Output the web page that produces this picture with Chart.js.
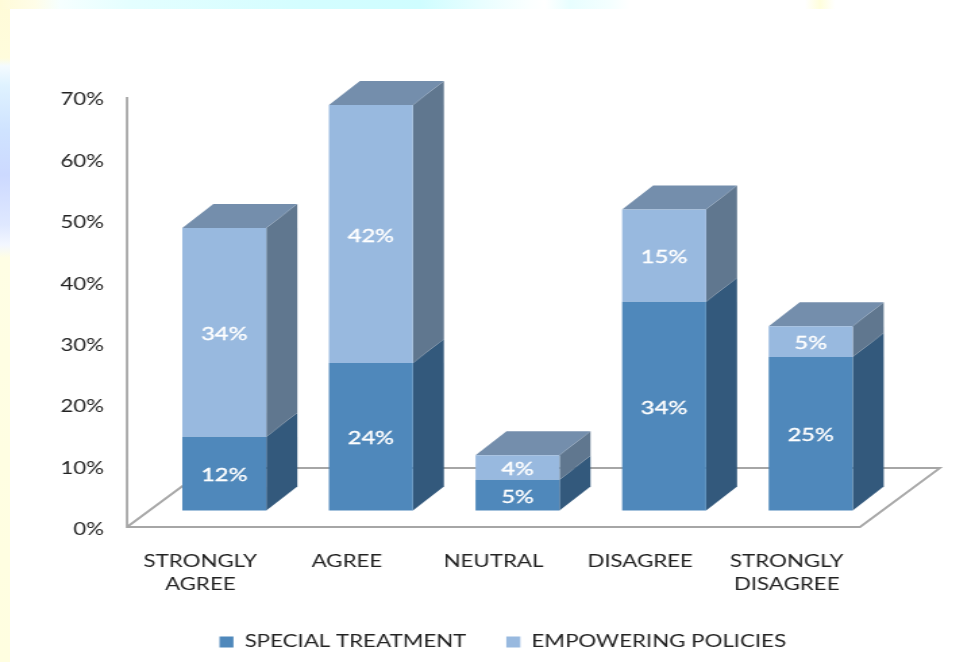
<!DOCTYPE html>
<html>
<head>
<meta charset="utf-8">
<style>
	html, body { margin: 0; padding: 0; background: #fff; overflow: hidden; }
	#page { position: relative; width: 975px; height: 662px; background: #fff; }
	#edgeLeft { position: absolute; left: 0; top: 0; width: 10px; height: 662px;
		background: linear-gradient(to bottom, #fffbd8 0, #fffcdc 58px, #f4fbff 66px, #dff2ff 85px, #cfe3ff 130px, #ccd9ff 175px, #dfe8ff 225px, #f3f7ff 245px, #fffee4 258px, #fffee0 662px); }
	#edgeTop { position: absolute; left: 0; top: 0; width: 975px; height: 9px;
		background: linear-gradient(to right, #fffbd8 0, #fffde8 35px, #f6ffff 60px, #e4feff 130px, #d4fdff 300px, #cffdff 420px, #e8feff 480px, #fbffff 530px, #ffffff 545px, #e8feff 570px, #f4ffff 610px, #ffffff 630px, #ffffff 805px, #fffedc 820px, #ffffff 835px); }
	canvas { position: absolute; left: 0; top: 0; }
</style>
</head>
<body>
<div id="page">
	<div id="edgeLeft"></div>
	<div id="edgeTop"></div>
	<canvas id="chart" width="722" height="662" style="width:975px;height:662px"></canvas>
</div>
<script src="https://cdn.jsdelivr.net/npm/chart.js@4"></script>
<script>
const categories = [['STRONGLY', 'AGREE'], 'AGREE', 'NEUTRAL', 'DISAGREE', ['STRONGLY', 'DISAGREE']];
const specialTreatment = [12, 24, 5, 34, 25];
const empoweringPolicies = [34, 42, 4, 15, 5];
const specialName = 'SPECIAL TREATMENT';
const empoweringName = 'EMPOWERING POLICIES';

// the canvas is drawn narrow and widened by css, which gives the wide lettering
const STRETCH = 975 / 722;
const sx = (px) => px / STRETCH;

const FONT = { family: 'Lato, "Open Sans", sans-serif', size: 16.5 };
const BAR_DEPTH_X = sx(31);
const BAR_DEPTH_Y = 24;
const FLOOR_DEPTH_X = sx(80);
const FLOOR_DEPTH_Y = 59;
const BAR_SHIFT = sx(24);
const WALL_COLOR = '#a6a6a6';
const PAD_LEFT = 36;
const LEGEND_SHIFT = 27;
const LEGEND_MIDDLE = 642;

const frontColors = ['#4f88bb', '#98b9df'];
const sideColors = ['#33597c', '#60778f'];
const topColor = '#748eac';

function face(ctx, points, color) {
	ctx.fillStyle = color;
	ctx.beginPath();
	points.forEach((p, i) => i ? ctx.lineTo(p[0], p[1]) : ctx.moveTo(p[0], p[1]));
	ctx.closePath();
	ctx.fill();
}

// floor outline and value axis line
const wallsPlugin = {
	id: 'walls',
	beforeDatasetsDraw(chart) {
		const { ctx } = chart;
		const yAxis = chart.scales.y;
		const left = chart.chartArea.left - BAR_SHIFT;
		const right = chart.chartArea.right - BAR_SHIFT;
		const bottom = yAxis.getPixelForValue(0);
		const top = yAxis.getPixelForValue(70);
		ctx.save();
		ctx.strokeStyle = WALL_COLOR;
		ctx.lineWidth = 1.8;
		ctx.beginPath();
		ctx.moveTo(left, top);
		ctx.lineTo(left, bottom);
		ctx.lineTo(right, bottom);
		ctx.lineTo(right + FLOOR_DEPTH_X, bottom - FLOOR_DEPTH_Y);
		ctx.lineTo(left + FLOOR_DEPTH_X, bottom - FLOOR_DEPTH_Y);
		ctx.lineTo(left, bottom);
		ctx.stroke();
		ctx.restore();
	}
};

// side and top faces behind the bars that chart.js draws
const blocksPlugin = {
	id: 'blocks',
	afterLayout(chart) {
		const legend = chart.legend;
		legend.left += LEGEND_SHIFT;
		legend.right += LEGEND_SHIFT;
		legend.top = LEGEND_MIDDLE - legend.options.labels.padding - legend._computeTitleHeight() - FONT.size / 2;
	},
	beforeDatasetsDraw(chart) {
		const { ctx } = chart;
		ctx.save();
		chart.data.datasets.forEach((ds, d) => {
			chart.getDatasetMeta(d).data.forEach((bar) => {
				const l = bar.x - bar.width / 2;
				const r = bar.x + bar.width / 2;
				face(ctx, [
					[r, bar.y], [r + BAR_DEPTH_X, bar.y - BAR_DEPTH_Y],
					[r + BAR_DEPTH_X, bar.base - BAR_DEPTH_Y], [r, bar.base]
				], sideColors[d]);
				if (d === chart.data.datasets.length - 1) {
					face(ctx, [
						[l, bar.y], [l + BAR_DEPTH_X, bar.y - BAR_DEPTH_Y],
						[r + BAR_DEPTH_X, bar.y - BAR_DEPTH_Y], [r, bar.y]
					], topColor);
				}
			});
		});
		ctx.restore();
	},
	afterDatasetsDraw(chart) {
		const { ctx } = chart;
		ctx.save();
		ctx.fillStyle = '#fff';
		ctx.strokeStyle = '#fff';
		ctx.lineWidth = 0.35;
		ctx.font = `17.5px ${FONT.family}`;
		ctx.textAlign = 'center';
		ctx.textBaseline = 'middle';
		chart.data.datasets.forEach((ds, d) => {
			chart.getDatasetMeta(d).data.forEach((bar, i) => {
				const label = ds.data[i] + '%';
				const y = (bar.y + bar.base) / 2 + 2;
				ctx.fillText(label, bar.x, y);
				ctx.strokeText(label, bar.x, y);
			});
		});
		ctx.restore();
	}
};

new Chart(document.getElementById('chart'), {
	type: 'bar',
	plugins: [wallsPlugin, blocksPlugin],
	data: {
		labels: categories,
		datasets: [
			{ label: specialName, data: specialTreatment, yAxisID: 'yBars', backgroundColor: frontColors[0] },
			{ label: empoweringName, data: empoweringPolicies, yAxisID: 'yBars', backgroundColor: frontColors[1] }
		]
	},
	options: {
		responsive: false,
		animation: false,
		barPercentage: 0.573,
		categoryPercentage: 1,
		layout: { padding: { top: 97, left: PAD_LEFT, right: 722 - sx(884), bottom: 0 } },
		plugins: {
			tooltip: { enabled: false },
			legend: {
				position: 'bottom',
				maxHeight: 30,
				labels: {
					boxWidth: sx(14),
					boxHeight: 11,
					padding: 29.6,
					color: '#222',
					font: FONT
				}
			}
		},
		scales: {
			x: {
				stacked: true,
				border: { display: false },
				grid: { display: false, drawTicks: false },
				ticks: {
					color: '#222',
					font: { ...FONT, lineHeight: 1.4 },
					padding: 23,
					maxRotation: 0,
					labelOffset: -BAR_SHIFT
				},
				afterFit(scale) { scale.height = 105; }
			},
			y: {
				min: 0,
				max: 70,
				border: { display: false },
				grid: { display: false, drawTicks: false },
				ticks: {
					stepSize: 10,
					color: '#222',
					font: FONT,
					padding: sx(47),
					labelOffset: 3,
					callback: (value) => value + '%'
				},
				afterFit(scale) { scale.width = sx(151) - PAD_LEFT; }
			},
			// same pixel range, with zero lifted onto the floor
			yBars: {
				display: false,
				stacked: true,
				min: -16.5 * 70 / 430,
				max: 70 - 16.5 * 70 / 430
			}
		}
	}
});
</script>
</body>
</html>
